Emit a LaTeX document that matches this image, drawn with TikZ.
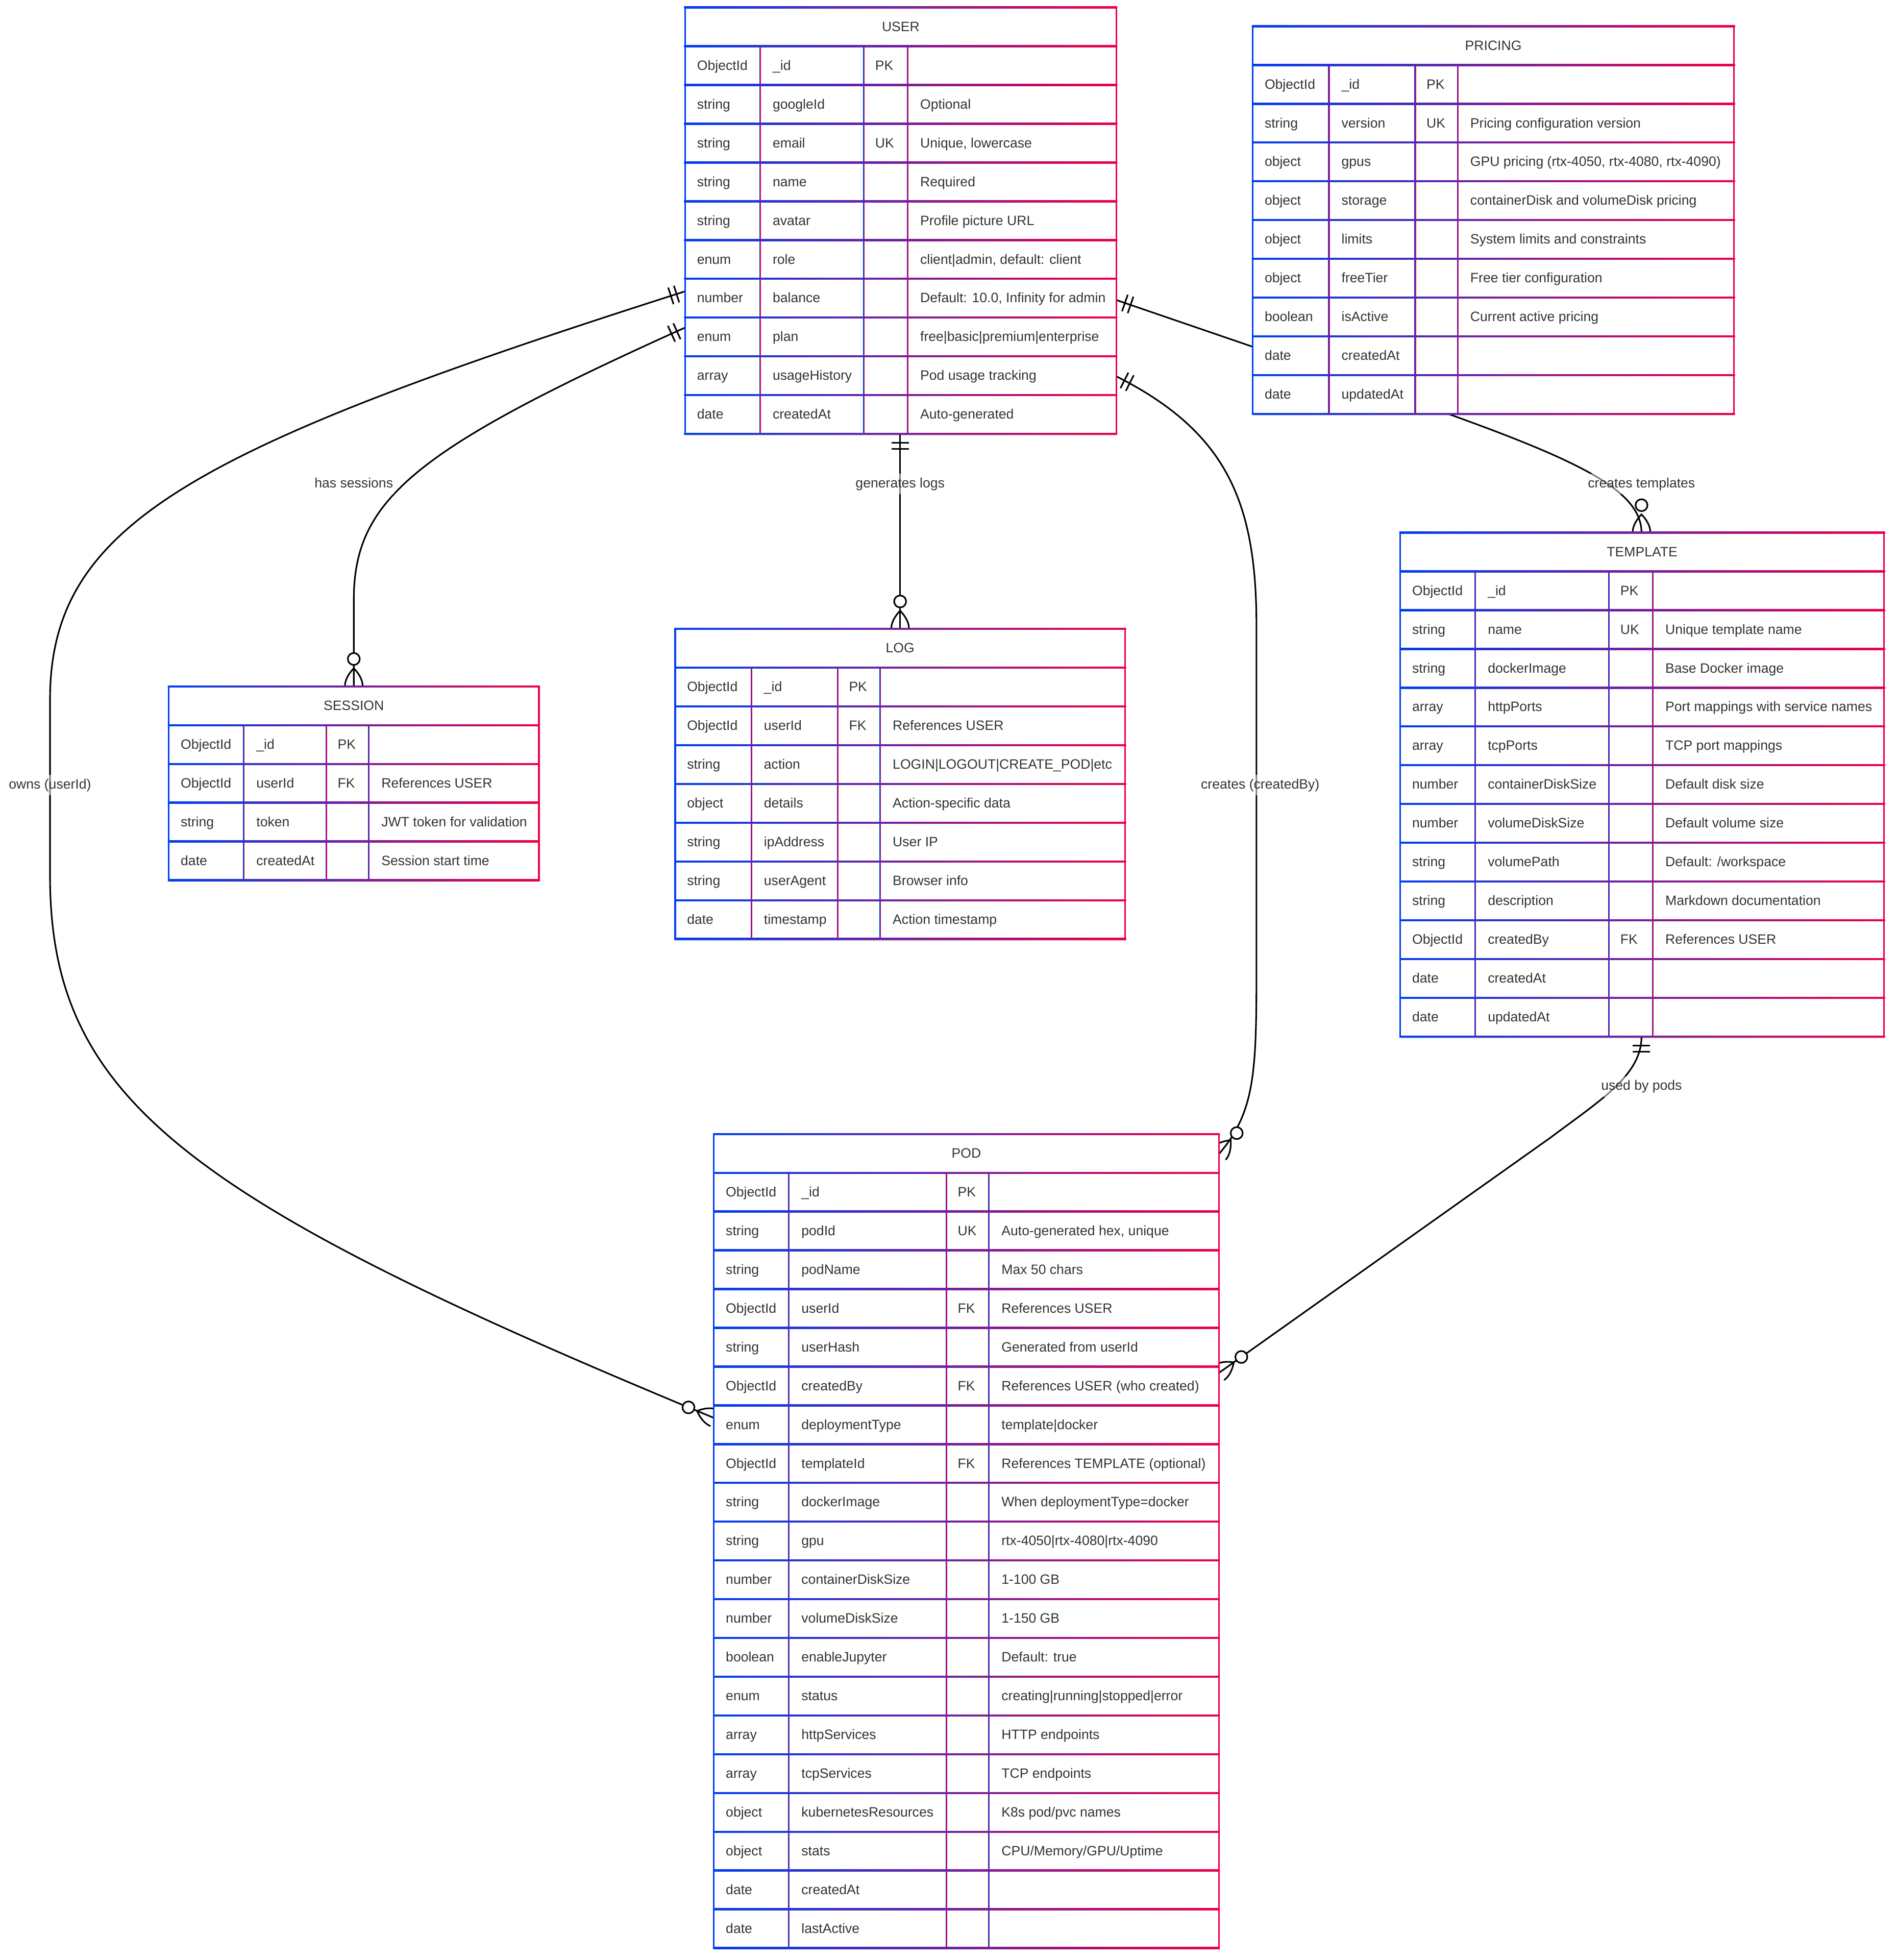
\documentclass[tikz,border=0pt]{standalone}
\usepackage{fontspec}
\setmainfont{Liberation Sans}
\usetikzlibrary{calc}
\definecolor{eblue}{RGB}{0,64,240}
\definecolor{ered}{RGB}{238,0,70}
\definecolor{etext}{RGB}{51,51,51}
\tikzset{
  conn/.style={line width=3.1pt, draw=black},
  celltext/.style={anchor=west, inner sep=0pt, text height=19pt, text depth=5pt, text=etext, font=\fontsize{26.6pt}{31pt}\selectfont},
  titletext/.style={anchor=center, inner sep=0pt, text height=19pt, text depth=5pt, text=etext, font=\fontsize{26.6pt}{31pt}\selectfont},
  rellabel/.style={inner xsep=2pt, inner ysep=8pt, fill=white, fill opacity=0.5, text opacity=1, text height=19pt, text depth=5pt, text=etext, font=\fontsize{26.6pt}{31pt}\selectfont},
}
% helper: point at distance #4 along (#2)->(#3), then #5 perpendicular
\newcommand\atp[5]{%
  \coordinate (mtmp) at ($(#2)!#4!(#3)$);
  \coordinate (#1) at ($(mtmp)!#5!90:(#3)$);}
\newcommand\markone[2]{%
  \atp{ma}{#1}{#2}{17.6pt}{17.1pt}\atp{mb}{#1}{#2}{17.6pt}{-17.1pt}%
  \atp{mc}{#1}{#2}{29.3pt}{17.1pt}\atp{md}{#1}{#2}{29.3pt}{-17.1pt}%
  \draw[conn] (ma) -- (mb) (mc) -- (md);}
\newcommand\markmany[2]{%
  \atp{ma}{#1}{#2}{0pt}{17.4pt}\atp{mb}{#1}{#2}{11.6pt}{17.4pt}%
  \atp{mc}{#1}{#2}{23.5pt}{11.6pt}\atp{md}{#1}{#2}{35.7pt}{0pt}%
  \atp{me}{#1}{#2}{11.6pt}{-17.4pt}\atp{mf}{#1}{#2}{23.5pt}{-11.6pt}%
  \atp{mg}{#1}{#2}{0pt}{-17.4pt}%
  \draw[conn] (ma) .. controls (mb) and (mc) .. (md) .. controls (mf) and (me) .. (mg);
  \atp{mo}{#1}{#2}{53.8pt}{0pt}%
  \draw[conn, fill=white] (mo) circle[radius=11.7pt];}
\newcommand\setcols[7]{\def\Tn{#1}\def\Xa{#2}\def\Xb{#3}\def\Xc{#4}\def\Xd{#5}\def\Xe{#6}\def\Yt{#7}}
\newcommand\erframe[3]{%
  \pgfmathsetmacro\Yb{\Yt+31*(#3+1)}%
  \pgfmathsetmacro\Yh{\Yt+31}%
  \pgfmathtruncatemacro\Nr{#3+1}%
  \fill[black,opacity=0.10] (\Xa+0.4,\Yt+1.0) rectangle (\Xe+0.4,\Yb+1.6);
  \fill[white] (\Xa,\Yt) rectangle (\Xe,\Yb);
  \foreach \xx in {\Xb,\Xc,\Xd}{%
    \fill[eblue] (\xx-0.7,\Yh) rectangle (\xx,\Yb);
    \fill[ered] (\xx,\Yh) rectangle (\xx+0.7,\Yb);}
  \fill[eblue] (\Xa-0.7,\Yt-0.7) rectangle (\Xa+0.7,\Yb+0.7);
  \fill[ered] (\Xe-0.7,\Yt-0.7) rectangle (\Xe+0.7,\Yb+0.7);
  \foreach \r in {0,...,\Nr}{%
    \shade[left color=eblue, right color=ered] (\Xa-0.7,\Yt+31*\r-0.7) rectangle (\Xe+0.7,\Yt+31*\r+0.7);}
  \node[titletext] (#1) at ({(\Xa+\Xe)/2},\Yt+16.2) {#2};}
\newcommand\erow[5]{%
  \pgfmathsetmacro\Ym{\Yt+31*#1+16.2}%
  \node[celltext] (\Tn-#1-a) at (\Xa+9.5,\Ym) {#2};
  \node[celltext] (\Tn-#1-b) at (\Xb+10,\Ym) {#3};
  \node[celltext] (\Tn-#1-c) at (\Xc+9,\Ym) {#4};
  \node[celltext] (\Tn-#1-d) at (\Xd+10,\Ym) {#5};}
\begin{document}
\begin{tikzpicture}[x=2.4496pt, y=-2.4496pt]
\useasboundingbox (0,0) rectangle (1517,1567.6);
\fill[white] (0,0) rectangle (1517,1567.6);

% ---------- connectors ----------
\coordinate (uA) at (548,233);
\coordinate (pA) at (571,1134);
\draw[conn] (uA) .. controls (150,360) and (40,420) .. (40,560) -- (40,700) .. controls (40,880) and (150,960) .. (pA);
\markone{uA}{150,360}
\markmany{pA}{150,960}

\coordinate (uB) at (548,262);
\coordinate (sB) at (283,549);
\draw[conn] (uB) .. controls (330,360) and (283,400) .. (283,480) -- (sB);
\markone{uB}{330,360}
\markmany{sB}{283,480}

\coordinate (uC) at (720,347);
\coordinate (lC) at (720,503);
\draw[conn] (uC) -- (lC);
\markone{uC}{720,503}
\markmany{lC}{720,347}

\coordinate (uD) at (893,301);
\coordinate (pD) at (975,923);
\draw[conn] (uD) .. controls (980,345) and (1005,400) .. (1005,500) -- (1005,780) .. controls (1005,860) and (1003,890) .. (pD);
\markone{uD}{980,345}
\markmany{pD}{1003,890}

\coordinate (uE) at (893,240);
\coordinate (tE) at (1313,426);
\draw[conn] (uE) -- (1150,328) .. controls (1262,368) and (1313,392) .. (tE);
\markone{uE}{1150,328}
\markmany{tE}{1313,392}

\coordinate (tF) at (1313,829);
\coordinate (pF) at (975,1098);
\draw[conn] (tF) .. controls (1313,860) and (1280,880) .. (1240,910) -- (pF);
\markone{tF}{1313,860}
\markmany{pF}{1240,910}

% ---------- relation labels ----------
\node[rellabel] (lbB) at (283,387) {has sessions};
\node[rellabel] (lbA) at (40,628) {owns (userId)};
\node[rellabel] (lbC) at (720,387) {generates logs};
\node[rellabel] (lbD) at (1008,628) {creates (createdBy)};
\node[rellabel] (lbE) at (1313,387) {creates templates};
\node[rellabel] (lbF) at (1313,869) {used by pods};

% ---------- USER ----------
\setcols{user}{548}{608}{691}{726}{893}{6}
\erframe{user}{USER}{10}
\erow{1}{ObjectId}{\_id}{PK}{}
\erow{2}{string}{googleId}{}{Optional}
\erow{3}{string}{email}{UK}{Unique, lowercase}
\erow{4}{string}{name}{}{Required}
\erow{5}{string}{avatar}{}{Profile picture URL}
\erow{6}{enum}{role}{}{client|admin, default: client}
\erow{7}{number}{balance}{}{Default: 10.0, Infinity for admin}
\erow{8}{enum}{plan}{}{free|basic|premium|enterprise}
\erow{9}{array}{usageHistory}{}{Pod usage tracking}
\erow{10}{date}{createdAt}{}{Auto-generated}

% ---------- PRICING ----------
\setcols{pricing}{1002}{1063}{1132}{1166}{1387}{21}
\erframe{pricing}{PRICING}{9}
\erow{1}{ObjectId}{\_id}{PK}{}
\erow{2}{string}{version}{UK}{Pricing configuration version}
\erow{3}{object}{gpus}{}{GPU pricing (rtx-4050, rtx-4080, rtx-4090)}
\erow{4}{object}{storage}{}{containerDisk and volumeDisk pricing}
\erow{5}{object}{limits}{}{System limits and constraints}
\erow{6}{object}{freeTier}{}{Free tier configuration}
\erow{7}{boolean}{isActive}{}{Current active pricing}
\erow{8}{date}{createdAt}{}{}
\erow{9}{date}{updatedAt}{}{}

% ---------- TEMPLATE ----------
\setcols{template}{1120}{1180}{1287}{1322}{1507}{426}
\erframe{template}{TEMPLATE}{12}
\erow{1}{ObjectId}{\_id}{PK}{}
\erow{2}{string}{name}{UK}{Unique template name}
\erow{3}{string}{dockerImage}{}{Base Docker image}
\erow{4}{array}{httpPorts}{}{Port mappings with service names}
\erow{5}{array}{tcpPorts}{}{TCP port mappings}
\erow{6}{number}{containerDiskSize}{}{Default disk size}
\erow{7}{number}{volumeDiskSize}{}{Default volume size}
\erow{8}{string}{volumePath}{}{Default: /workspace}
\erow{9}{string}{description}{}{Markdown documentation}
\erow{10}{ObjectId}{createdBy}{FK}{References USER}
\erow{11}{date}{createdAt}{}{}
\erow{12}{date}{updatedAt}{}{}

% ---------- LOG ----------
\setcols{log}{540}{601}{670}{704}{900}{503}
\erframe{log}{LOG}{7}
\erow{1}{ObjectId}{\_id}{PK}{}
\erow{2}{ObjectId}{userId}{FK}{References USER}
\erow{3}{string}{action}{}{LOGIN|LOGOUT|CREATE\_POD|etc}
\erow{4}{object}{details}{}{Action-specific data}
\erow{5}{string}{ipAddress}{}{User IP}
\erow{6}{string}{userAgent}{}{Browser info}
\erow{7}{date}{timestamp}{}{Action timestamp}

% ---------- SESSION ----------
\setcols{session}{135}{195}{261}{295}{431}{549}
\erframe{session}{SESSION}{4}
\erow{1}{ObjectId}{\_id}{PK}{}
\erow{2}{ObjectId}{userId}{FK}{References USER}
\erow{3}{string}{token}{}{JWT token for validation}
\erow{4}{date}{createdAt}{}{Session start time}

% ---------- POD ----------
\setcols{pod}{571}{631}{757}{791}{975}{907}
\erframe{pod}{POD}{20}
\erow{1}{ObjectId}{\_id}{PK}{}
\erow{2}{string}{podId}{UK}{Auto-generated hex, unique}
\erow{3}{string}{podName}{}{Max 50 chars}
\erow{4}{ObjectId}{userId}{FK}{References USER}
\erow{5}{string}{userHash}{}{Generated from userId}
\erow{6}{ObjectId}{createdBy}{FK}{References USER (who created)}
\erow{7}{enum}{deploymentType}{}{template|docker}
\erow{8}{ObjectId}{templateId}{FK}{References TEMPLATE (optional)}
\erow{9}{string}{dockerImage}{}{When deploymentType=docker}
\erow{10}{string}{gpu}{}{rtx-4050|rtx-4080|rtx-4090}
\erow{11}{number}{containerDiskSize}{}{1-100 GB}
\erow{12}{number}{volumeDiskSize}{}{1-150 GB}
\erow{13}{boolean}{enableJupyter}{}{Default: true}
\erow{14}{enum}{status}{}{creating|running|stopped|error}
\erow{15}{array}{httpServices}{}{HTTP endpoints}
\erow{16}{array}{tcpServices}{}{TCP endpoints}
\erow{17}{object}{kubernetesResources}{}{K8s pod/pvc names}
\erow{18}{object}{stats}{}{CPU/Memory/GPU/Uptime}
\erow{19}{date}{createdAt}{}{}
\erow{20}{date}{lastActive}{}{}
\end{tikzpicture}
\end{document}
